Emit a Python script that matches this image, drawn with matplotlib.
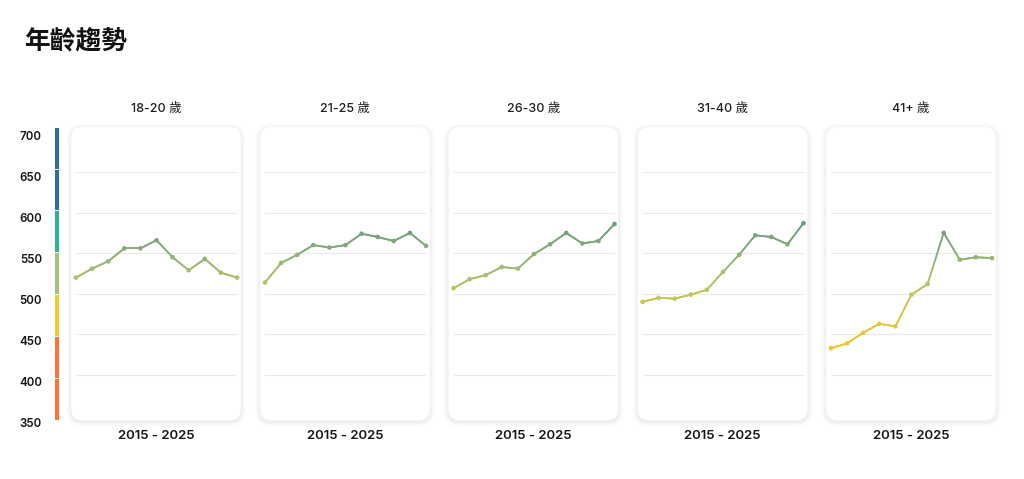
import numpy as np
import matplotlib
matplotlib.use("Agg")
import matplotlib.pyplot as plt
from matplotlib.patches import FancyBboxPatch
from matplotlib.collections import LineCollection
from matplotlib.colors import LinearSegmentedColormap, Normalize

plt.rcParams['font.family'] = ['Inter', 'Noto Sans CJK TC', 'DejaVu Sans']

# ---------------- data ----------------
title = "年齡趨勢"
years = list(range(2015, 2026))
groups = ["18-20 歲", "21-25 歲", "26-30 歲", "31-40 歲", "41+ 歲"]
period_label = "2015 - 2025"

age_18_20 = [520, 531, 540, 556, 556, 566, 545, 529, 543, 526, 520]
age_21_25 = [514, 538, 548, 560, 557, 560, 574, 570, 565, 575, 559]
age_26_30 = [507, 518, 523, 533, 531, 549, 561, 575, 562, 565, 586]
age_31_40 = [490, 495, 494, 499, 505, 527, 548, 572, 570, 561, 587]
age_41_up = [433, 439, 452, 463, 460, 499, 512, 575, 542, 545, 544]
series = [age_18_20, age_21_25, age_26_30, age_31_40, age_41_up]

scale_ticks = [350, 400, 450, 500, 550, 600, 650, 700]
band_lows = [350, 400, 450, 500, 550, 600, 650]
band_colors = ["#ff7334", "#ff7334", "#f3ca2b", "#a5c07e", "#2bb39a", "#2e6f98", "#2e6f98"]
grid_values = [400, 450, 500, 550, 600, 650]

# line colour ramp (value -> colour)
ramp_vals = [430, 470, 500, 530, 560, 590]
ramp_cols = ["#ecc72c", "#dcc83e", "#c3c65c", "#a2bd72", "#83ab7a", "#6c9c7b"]

W, H = 1024, 479
fig = plt.figure(figsize=(W / 100, H / 100), dpi=100)
fig.patch.set_facecolor("white")

def fx(x):
    return x / W

def fy(y):
    return 1 - y / H

bg = fig.add_axes([0, 0, 1, 1])
bg.set_xlim(0, W)
bg.set_ylim(H, 0)
bg.axis("off")
bg.set_zorder(0)

fig.text(fx(24), fy(42), title, fontsize=18.5, fontweight="bold",
         family=['Noto Sans CJK TC', 'DejaVu Sans'], color="#111111", va="center", ha="left")

# colour scale bar
cb = fig.add_axes([fx(53.7), fy(420), fx(59) - fx(53.7), (420 - 126.7) / H])
cb.set_zorder(2)
cb.bar([0] * len(band_lows), [50] * len(band_lows), bottom=band_lows, width=1,
       color=band_colors, edgecolor="white", linewidth=0.7, align="edge")
cb.set_xlim(0, 1)
cb.set_ylim(350, 700)
cb.axis("off")

# scale labels
lab_ax = fig.add_axes([fx(53.7), fy(422.7), fx(59) - fx(53.7), (422.7 - 135) / H])
lab_ax.patch.set_alpha(0)
lab_ax.set_xlim(0, 1)
lab_ax.set_ylim(350, 700)
for s in lab_ax.spines.values():
    s.set_visible(False)
lab_ax.set_xticks([])
lab_ax.set_yticks(scale_ticks)
lab_ax.set_yticklabels([str(t) for t in scale_ticks])
lab_ax.tick_params(axis="y", length=0, pad=8.5, labelsize=8.3, labelcolor="#151515")
for lab in lab_ax.get_yticklabels():
    lab.set_fontweight("semibold")

cmap = LinearSegmentedColormap.from_list(
    "ramp", [((v - ramp_vals[0]) / (ramp_vals[-1] - ramp_vals[0]), c) for v, c in zip(ramp_vals, ramp_cols)])
norm = Normalize(ramp_vals[0], ramp_vals[-1])

card_lefts = [71, 260, 448.5, 637.5, 826]
card_w = 170
card_top, card_bot = 126.7, 420.5

for i, (name, vals) in enumerate(zip(groups, series)):
    L = card_lefts[i]
    R = L + card_w
    # soft shadow
    for k, a in [(5, 0.008), (4, 0.010), (3, 0.013), (2, 0.016), (1, 0.02)]:
        bg.add_patch(FancyBboxPatch((L - k, card_top - k + 1.5), card_w + 2 * k, card_bot - card_top + 2 * k,
                                    boxstyle=f"round,pad=0,rounding_size={12 + k}",
                                    facecolor="black", edgecolor="none", alpha=a))
    bg.add_patch(FancyBboxPatch((L, card_top), card_w, card_bot - card_top,
                                boxstyle="round,pad=0,rounding_size=12",
                                facecolor="white", edgecolor="#f4f4f4", linewidth=0.5))
    fig.text(fx((L + R) / 2), fy(109), name, fontsize=9, ha="center", va="center",
             color="#1e1e1e", fontweight="medium")
    fig.text(fx((L + R) / 2), fy(436), period_label, fontsize=9.5, ha="center", va="center",
             color="#151515", fontweight="semibold")

    ax = fig.add_axes([fx(L + 5), fy(415.6), fx(R - 4) - fx(L + 5), (415.6 - 131.4) / H])
    ax.set_zorder(3)
    ax.patch.set_alpha(0)
    ax.set_xlim(years[0], years[-1])
    ax.set_ylim(350, 700)
    ax.axis("off")
    for g in grid_values:
        ax.axhline(g, color="#e9e9e9", linewidth=0.8, zorder=1)

    xs = np.array(years, dtype=float)
    ys = np.array(vals, dtype=float)
    segs, cols = [], []
    for j in range(len(xs) - 1):
        n = 20
        tx = np.linspace(xs[j], xs[j + 1], n + 1)
        ty = np.linspace(ys[j], ys[j + 1], n + 1)
        for k in range(n):
            segs.append([(tx[k], ty[k]), (tx[k + 1], ty[k + 1])])
            cols.append((ty[k] + ty[k + 1]) / 2)
    lc = LineCollection(segs, cmap=cmap, norm=norm, linewidth=1.3, zorder=2, capstyle="round")
    lc.set_array(np.array(cols))
    lc.set_clip_on(False)
    ax.add_collection(lc)
    ax.scatter(xs, ys, c=ys, cmap=cmap, norm=norm, s=11, zorder=3, clip_on=False, linewidths=0)

fig.savefig("out.png", dpi=100, facecolor="white")
